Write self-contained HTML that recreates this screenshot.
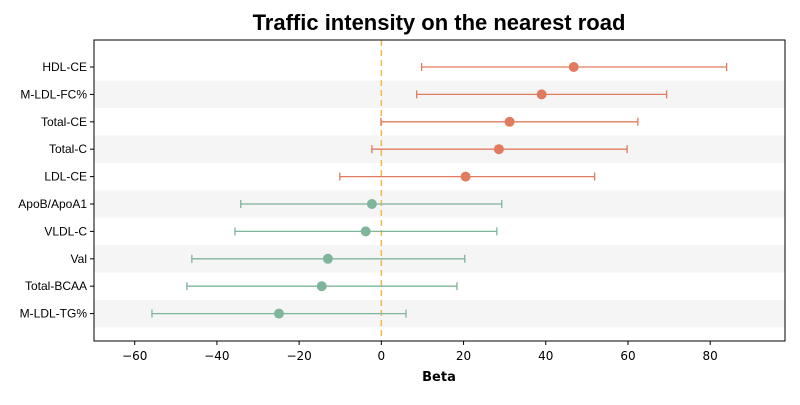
<!DOCTYPE html>
<html><head><meta charset="utf-8"><style>
body{margin:0;background:#fff;width:800px;height:400px;overflow:hidden}
text{font-family:"DejaVu Sans","Liberation Sans",sans-serif}
.lib{font-family:"Liberation Sans","DejaVu Sans",sans-serif}
</style></head><body>
<svg id="chart" width="800" height="400">
<text class="lib" x="439" y="30" text-anchor="middle" font-size="22" font-weight="bold">Traffic intensity on the nearest road</text>
<g id="bands"></g><g id="grid"></g><g id="marks"></g>
<rect x="94" y="40" width="691" height="301" fill="none" stroke="#000" stroke-width="1"/>
<g id="xticks"></g><g id="yticks"></g>
<text x="439" y="381" text-anchor="middle" font-size="13" font-weight="bold">Beta</text>
</svg>
<script>
const categories=["HDL-CE","M-LDL-FC%","Total-CE","Total-C","LDL-CE","ApoB/ApoA1","VLDL-C","Val","Total-BCAA","M-LDL-TG%"];
const beta=[46.8,39.0,31.2,28.6,20.5,-2.3,-3.8,-13.0,-14.5,-24.9];
const lower=[9.8,8.6,-0.1,-2.3,-10.1,-34.2,-35.6,-46.1,-47.3,-55.8];
const upper=[84.0,69.4,62.4,59.8,51.9,29.3,28.1,20.3,18.4,6.0];
const xTicks=[-60,-40,-20,0,20,40,60,80];
const NS="http://www.w3.org/2000/svg";
const L=94,R=785,T=40,B=341,xmin=-69.9,xmax=98.2;
const x=v=>L+(v-xmin)/(xmax-xmin)*(R-L);
const rowH=27.4,y0=67;
const y=i=>y0+i*rowH;
function mk(tag,attrs,parent){const e=document.createElementNS(NS,tag);for(const k in attrs)e.setAttribute(k,attrs[k]);document.getElementById(parent).appendChild(e);return e;}
categories.forEach((c,i)=>{
 if(i%2===1){const b=mk('rect',{x:L,y:y(i)-rowH/2,width:R-L,height:rowH,fill:'#f5f5f5'},'bands');
 
 }
 const col=beta[i]>0?'#e07b5f':'#7fb59a';
 const g=mk('g',{},'marks');
 
 
 const yy=y(i);
 [['line',{x1:x(lower[i]),x2:x(upper[i]),y1:yy,y2:yy}],['line',{x1:x(lower[i]),x2:x(lower[i]),y1:yy-4,y2:yy+4}],['line',{x1:x(upper[i]),x2:x(upper[i]),y1:yy-4,y2:yy+4}]].forEach(([t,a])=>{const e=document.createElementNS(NS,t);for(const k in a)e.setAttribute(k,a[k]);e.setAttribute('stroke',col);e.setAttribute('stroke-width','1.3');g.appendChild(e);});
 const ci=document.createElementNS(NS,'circle');ci.setAttribute('cx',x(beta[i]));ci.setAttribute('cy',yy);ci.setAttribute('r',5);ci.setAttribute('fill',col);g.appendChild(ci);
 const t=mk('text',{x:L-7,y:yy+4,'text-anchor':'end','font-size':12,'class':'lib'},'yticks');t.textContent=c;
 
 
 const tk=mk('line',{x1:L-4,x2:L,y1:yy,y2:yy,stroke:'#000'},'yticks');
 
 
});
const zl=mk('line',{x1:x(0),x2:x(0),y1:T,y2:B,stroke:'#f2b84b','stroke-width':1.5,'stroke-dasharray':'6,4'},'grid');


xTicks.forEach(v=>{
 const tk=mk('line',{x1:x(v),x2:x(v),y1:B,y2:B+4,stroke:'#000'},'xticks');
 
 
 const t=mk('text',{x:x(v),y:B+19,'text-anchor':'middle','font-size':12},'xticks');t.textContent=v<0?'−'+Math.abs(v):v;
 
 
});
</script>
</body></html>
